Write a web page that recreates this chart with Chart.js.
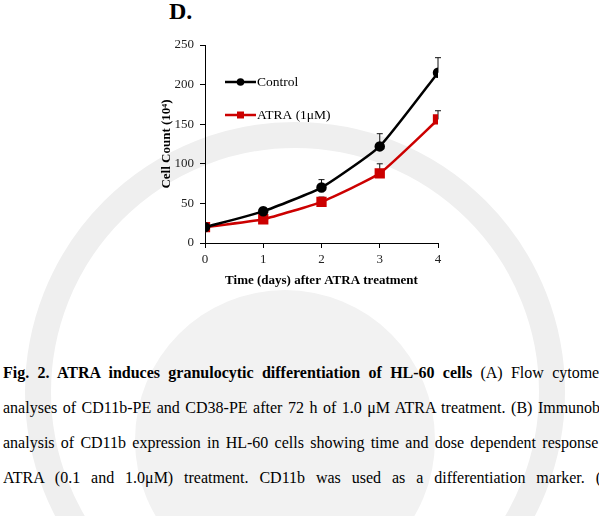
<!DOCTYPE html>
<html>
<head>
<meta charset="utf-8">
<script src="https://cdn.jsdelivr.net/npm/chart.js@4.4.1/dist/chart.umd.min.js"></script>
<style>
  body { margin: 0; width: 599px; height: 516px; overflow: hidden; background: #fff; position: relative; font-family: "Liberation Serif", "Times New Roman", serif; color: #000; }
  .wm-ring { position: absolute; left: 25px; top: 122px; width: 540px; height: 540px; border-radius: 50%; border: 26px solid #efefef; box-sizing: border-box; }
  .wm-disc { position: absolute; left: 135px; top: 290px; width: 300px; height: 300px; border-radius: 50%; background: #f2f2f2; }
  #panel { position: absolute; left: 169px; top: -2px; font-size: 24px; font-weight: bold; }
  #chartBox { position: absolute; left: 140px; top: 30px; width: 310px; height: 270px; }
  #caption { position: absolute; left: 3px; top: 355px; }
  #caption div { width: 614px; height: 35px; line-height: 35px; font-size: 16px; text-align: justify; text-align-last: justify; overflow: hidden; }
</style>
</head>
<body>
<div class="wm-ring"></div>
<div class="wm-disc"></div>
<div id="panel">D.</div>
<div id="chartBox"><canvas id="growthChart"></canvas></div>
<div id="caption">
  <div><b>Fig. 2. ATRA induces granulocytic differentiation of HL-60 cells</b> (A) Flow cytometry</div>
  <div>analyses of CD11b-PE and CD38-PE after 72 h of 1.0 μM ATRA treatment. (B) Immunoblot</div>
  <div>analysis of CD11b expression in HL-60 cells showing time and dose dependent response to</div>
  <div>ATRA (0.1 and 1.0μM) treatment. CD11b was used as a differentiation marker. (C)</div>
</div>
<script>
// données
const days = [0, 1, 2, 3, 4];
const controlCounts = [20, 40, 70, 122, 215];
const controlErr = [0, 5, 10, 16, 19];
const atraCounts = [20, 30, 52, 88, 156];
const atraErr = [0, 2, 6, 12, 11];
const yTicks = [0, 50, 100, 150, 200, 250];

const serif = "'Liberation Serif', 'Times New Roman', serif";
const red = '#cc0000';

function toPoints(vals) {
    return days.map((d, i) => ({ x: d, y: vals[i] }));
}

// barres d'erreur (uniquement vers le haut, style Excel)
const errorBars = {
    id: 'errorBars',
    beforeDatasetsDraw(chart) {
        const ctx = chart.ctx;
        const xs = chart.scales.x, ys = chart.scales.y;
        chart.data.datasets.forEach(ds => {
            ctx.save();
            ctx.strokeStyle = '#111';
            ctx.lineWidth = 1;
            ds.errors.forEach((e, i) => {
                if (!e) return;
                const px = xs.getPixelForValue(days[i]);
                const py = ys.getPixelForValue(ds.data[i].y);
                const top = ys.getPixelForValue(ds.data[i].y + e);
                ctx.beginPath();
                ctx.moveTo(px, py);
                ctx.lineTo(px, top);
                ctx.moveTo(px - 3, top);
                ctx.lineTo(px + 3, top);
                ctx.stroke();
            });
            ctx.restore();
        });
    }
};

// légende dessinée dans la zone du graphique
const insideLegend = {
    id: 'insideLegend',
    afterDraw(chart) {
        const ctx = chart.ctx;
        const area = chart.chartArea;
        const x0 = area.left + 20;
        const rows = [area.top + 37, area.top + 70];
        chart.data.datasets.forEach((ds, i) => {
            const y = rows[i];
            ctx.save();
            ctx.strokeStyle = ds.borderColor;
            ctx.lineWidth = 2.5;
            ctx.beginPath();
            ctx.moveTo(x0, y);
            ctx.lineTo(x0 + 31, y);
            ctx.stroke();
            ctx.fillStyle = ds.backgroundColor;
            if (ds.pointStyle === 'rect') {
                ctx.fillRect(x0 + 12, y - 3.5, 7, 7);
            } else {
                ctx.beginPath();
                ctx.arc(x0 + 15.5, y, 3.8, 0, Math.PI * 2);
                ctx.fill();
            }
            ctx.fillStyle = '#000';
            ctx.font = `13.5px ${serif}`;
            ctx.textBaseline = 'middle';
            ctx.fillText(ds.label, x0 + 32, y);
            ctx.restore();
        });
    }
};

const ctx = document.getElementById('growthChart').getContext('2d');
new Chart(ctx, {
    type: 'line',
    data: {
        datasets: [
            {
                label: 'Control',
                data: toPoints(controlCounts),
                errors: controlErr,
                borderColor: '#000',
                backgroundColor: '#000',
                borderWidth: 2.5,
                pointStyle: 'circle',
                pointRadius: 4,
                tension: 0.15
            },
            {
                label: 'ATRA (1μM)',
                data: toPoints(atraCounts),
                errors: atraErr,
                borderColor: red,
                backgroundColor: red,
                borderWidth: 2.5,
                pointStyle: 'rect',
                pointRadius: 5.5,
                tension: 0.15
            }
        ]
    },
    options: {
        responsive: true,
        maintainAspectRatio: false,
        animation: false,
        layout: { padding: { top: 15, right: 12, left: 0, bottom: 0 } },
        plugins: {
            legend: { display: false },
            tooltip: { enabled: false }
        },
        scales: {
            x: {
                type: 'linear',
                min: 0,
                max: 4,
                afterBuildTicks: s => { s.ticks = days.map(v => ({ value: v })); },
                afterFit: s => { s.height = 57; },
                grid: { drawOnChartArea: false, drawTicks: true, tickLength: 5, tickColor: '#000' },
                border: { color: '#000', width: 1 },
                ticks: { color: '#222', font: { family: serif, size: 13 }, padding: 4 },
                title: { display: true, text: 'Time (days) after ATRA treatment', color: '#000', font: { family: serif, size: 13, weight: 'bold' }, padding: { top: 0, bottom: 12 } }
            },
            y: {
                min: 0,
                max: 250,
                afterBuildTicks: s => { s.ticks = yTicks.map(v => ({ value: v })); },
                afterFit: s => { s.width = 65; },
                grid: { drawOnChartArea: false, drawTicks: true, tickLength: 5, tickColor: '#000' },
                border: { color: '#000', width: 1 },
                ticks: { color: '#222', font: { family: serif, size: 13 }, padding: 6 },
                title: { display: true, text: 'Cell Count (10⁴)', color: '#000', font: { family: serif, size: 13, weight: 'bold' }, padding: { top: 19, bottom: 0 } }
            }
        }
    },
    plugins: [errorBars, insideLegend]
});
</script>
</body>
</html>
